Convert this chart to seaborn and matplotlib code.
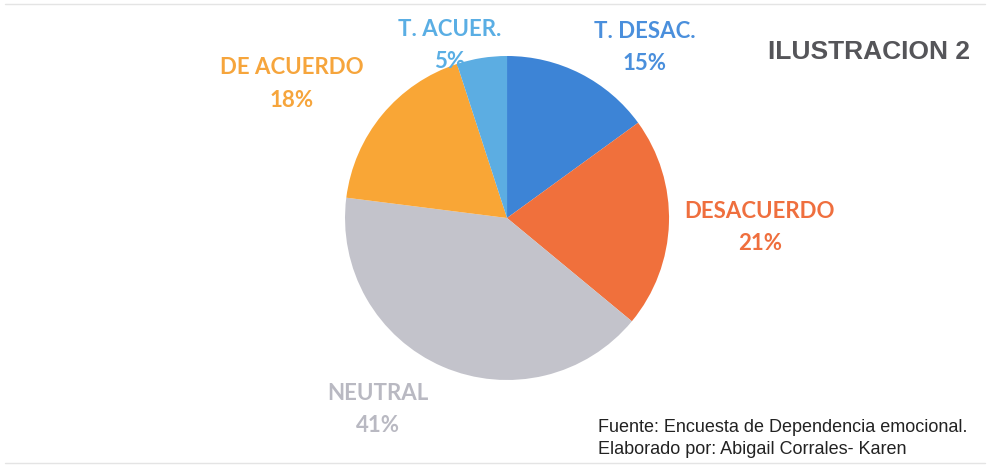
import matplotlib
matplotlib.use("Agg")
import matplotlib.pyplot as plt
import seaborn as sns
import numpy as np

categories = ["T. DESAC.", "DESACUERDO", "NEUTRAL", "DE ACUERDO", "T. ACUER."]
values = [15, 21, 41, 18, 5]
colors = ["#3d84d6", "#f0703c", "#c3c3cb", "#f9a636", "#5cade2"]
label_colors = ["#4a8fdc", "#ef6f3e", "#b9b9c2", "#f6a53c", "#5aaee4"]
pct_labels = ["15%", "21%", "41%", "18%", "5%"]
title = "ILUSTRACION 2"
footer = ["Fuente: Encuesta de Dependencia emocional.",
          "Elaborado por: Abigail Corrales- Karen"]

sns.set_theme(style="white")
plt.rcParams['font.family'] = ['Lato', 'DejaVu Sans']

fig = plt.figure(figsize=(9.9, 4.67), dpi=100)
fig.patch.set_facecolor("white")
ax = fig.add_axes([0.3485, 0.1863, 0.3273, 0.6938])
wedges, _ = ax.pie(values, colors=colors, startangle=90, counterclock=False,
                   wedgeprops=dict(linewidth=0))
ax.set_xlim(-1, 1)
ax.set_ylim(-1, 1)
ax.set_aspect("equal")
ax.axis("off")

# label positions (figure pixels, from top-left) for name line
label_pos = [(645, 32), (760, 212), (378, 393), (292, 68), (450, 30)]
for (x, y), name, pct, c in zip(label_pos, categories, pct_labels, label_colors):
    fig.text(x / 990, 1 - y / 467, name, color=c, fontsize=16, fontweight="bold",
             ha="center", va="center", family=["Lato", "DejaVu Sans"])
    fig.text(x / 990, 1 - (y + 32) / 467, pct, color=c, fontsize=16, fontweight="bold",
             ha="center", va="center", family=["Lato", "DejaVu Sans"])

fig.text(970 / 990, 1 - 52 / 467, title, color="#555559", fontsize=19, fontweight="bold",
         ha="right", va="center", family=["Liberation Sans", "DejaVu Sans"])
fig.text(598 / 990, 1 - 428 / 467, footer[0], color="#222222", fontsize=13,
         ha="left", va="center", family=["Liberation Sans", "DejaVu Sans"])
fig.text(598 / 990, 1 - 450 / 467, footer[1], color="#222222", fontsize=13,
         ha="left", va="center", family=["Liberation Sans", "DejaVu Sans"])

fig.add_artist(plt.Line2D([0.005, 0.995], [1 - 4 / 467, 1 - 4 / 467], color="#e4e4e4", lw=1))
fig.add_artist(plt.Line2D([0.005, 0.995], [1 - 463 / 467, 1 - 463 / 467], color="#e4e4e4", lw=1))

fig.savefig("out.png", dpi=100, facecolor="white")
